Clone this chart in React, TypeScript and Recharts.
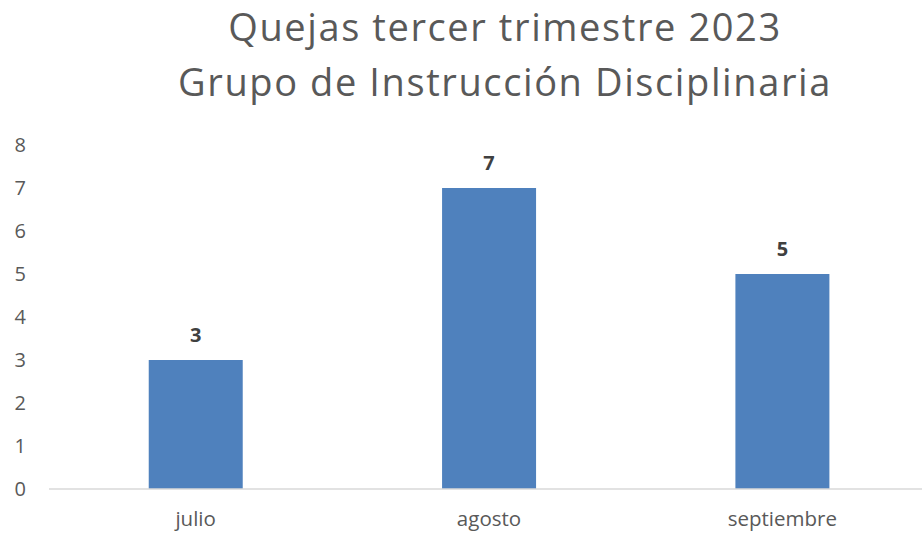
import { BarChart, Bar, XAxis, YAxis, LabelList } from 'recharts';

const MONTHS = ['julio', 'agosto', 'septiembre'];
const QUEJAS = [3, 7, 5];
const Y_TICKS = [0, 1, 2, 3, 4, 5, 6, 7, 8];
const TITLE_LINES = ['Quejas tercer trimestre 2023', 'Grupo de Instrucción Disciplinaria'];

const data = MONTHS.map((mes, i) => ({ mes, quejas: QUEJAS[i] }));

const FONT = '"Open Sans", Lato, sans-serif';
const GRAY = '#595959';

export default function App() {
  return (
    <div
      style={{
        position: 'fixed',
        left: 0,
        top: 0,
        width: 922,
        height: 533,
        overflow: 'hidden',
        background: '#fff',
        fontFamily: FONT,
      }}
    >
      <div
        style={{
          position: 'absolute',
          left: 88,
          top: 0,
          width: 834,
          textAlign: 'center',
          color: GRAY,
          fontSize: 38,
          lineHeight: '52px',
          fontWeight: 400,
          letterSpacing: 1.6,
        }}
      >
        {TITLE_LINES.map((t, i) => (
          <div key={t} style={{ marginTop: i === 0 ? 0 : 3 }}>
            {t}
          </div>
        ))}
      </div>
      <BarChart
        width={929}
        height={533}
        data={data}
        margin={{ top: 145, right: 0, left: 0, bottom: 0 }}
        barCategoryGap="34%"
      >
        <XAxis
          dataKey="mes"
          height={44}
          tickSize={0}
          tickMargin={22}
          axisLine={{ stroke: '#d9d9d9', strokeWidth: 1.5 }}
          tickLine={false}
          tick={{ fill: GRAY, fontSize: 20.5, fontFamily: FONT }}
        />
        <YAxis
          width={49}
          domain={[0, 8]}
          ticks={Y_TICKS}
          tickSize={0}
          tickMargin={23}
          axisLine={false}
          tickLine={false}
          tick={{ fill: GRAY, fontSize: 20, fontFamily: FONT }}
        />
        <Bar dataKey="quejas" fill="#4f81bd" isAnimationActive={false}>
          <LabelList
            dataKey="quejas"
            position="top"
            offset={18}
            style={{ fill: '#404040', fontSize: 20, fontWeight: 700, fontFamily: FONT }}
          />
        </Bar>
      </BarChart>
    </div>
  );
}
